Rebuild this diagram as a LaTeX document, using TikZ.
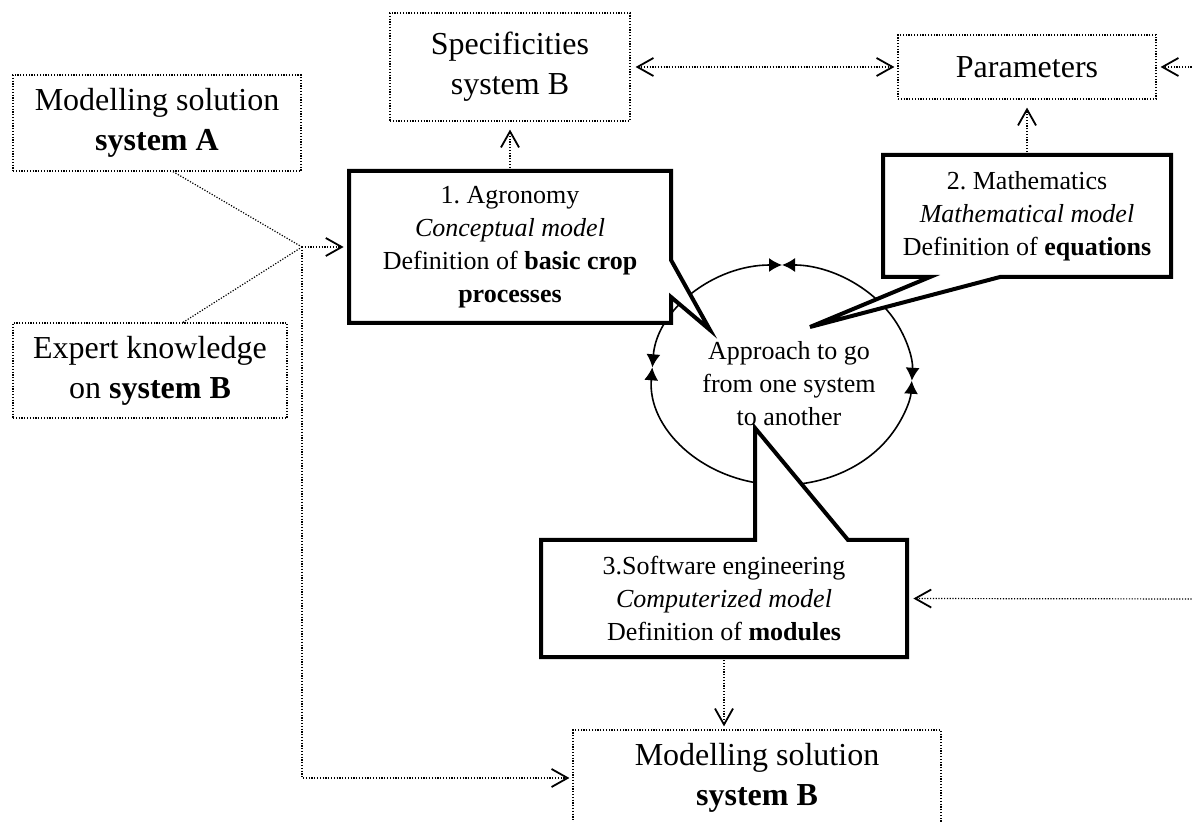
\documentclass[tikz,border=0pt]{standalone}
\usepackage{fontspec}
\setmainfont{Liberation Serif}
\usetikzlibrary{arrows.meta}
\frenchspacing

\begin{document}
\begin{tikzpicture}[x=0.5pt,y=-0.5pt,
    >={Straight Barb[length=8pt,width=9pt,line width=0.9pt]},
    punteado/.style={line width=0.6pt,dash pattern=on 0.6pt off 0.8pt},
    caja/.style={punteado,draw,align=center,inner sep=0pt,font=\fontsize{16}{20}\selectfont},
    globo/.style={line width=2pt,fill=white},
    texto/.style={align=center,inner sep=0pt,font=\fontsize{13}{16.5}\selectfont},
    flecha/.style={punteado,->,shorten >=2pt},
    ciclo/.style={line width=0.8pt,{Latex[length=6.5pt,width=7pt]}-{Latex[length=6.5pt,width=7pt]}}]
\def\rx{65pt};%radio horizontal del ciclo
\def\ry{55pt};%radio vertical del ciclo

\useasboundingbox (0,0) rectangle (1193,822);
\clip (0,0) rectangle (1193,822);

%Ciclo
\coordinate (arriba) at (782,265);
\coordinate (izq) at (652.3,367.3);
\draw[ciclo] (arriba) arc[start angle=90,end angle=176,x radius=\rx,y radius=\ry];
\draw[ciclo] (arriba) arc[start angle=90,end angle=-3,x radius=\rx,y radius=\ry];
\draw[ciclo] (izq) arc[start angle=176,end angle=357,x radius=\rx,y radius=\ry];

%Globos
\draw[globo] (349,171) -- (671,171) -- (671,260) -- (710,330) -- (671,297) -- (671,323) -- (349,323) -- cycle;
\draw[globo] (883,155) -- (1171,155) -- (1171,277) -- (1000,277) -- (810,327) -- (930,277) -- (883,277) -- cycle;
\draw[globo] (541,540) -- (755,540) -- (755,428) -- (848,540) -- (907,540) -- (907,657) -- (541,657) -- cycle;

%Textos de los globos
\node[texto,minimum width=161pt,minimum height=76pt] (agro) at (510,247) {1. Agronomy\\\textit{Conceptual model}\\Definition of \textbf{basic crop}\\\textbf{processes}};
\node[texto,minimum width=144pt,minimum height=61pt] (mate) at (1027,216) {2. Mathematics\\\textit{Mathematical model}\\Definition of \textbf{equations}};
\node[texto,minimum width=183pt,minimum height=58.5pt] (soft) at (724,598.5) {3.Software engineering\\\textit{Computerized model}\\Definition of \textbf{modules}};
\node[texto] (enfoque) at (789,384) {Approach to go\\from one system\\to another};

%Cajas punteadas
\node[caja,minimum width=144pt,minimum height=48pt] (solA) at (157,123) {Modelling solution\\\textbf{system A}};
\node[caja,minimum width=120pt,minimum height=54pt] (espec) at (510,67) {Specificities\\system B};
\node[caja,minimum width=129pt,minimum height=32pt] (param) at (1027,67) {Parameters};
\node[caja,minimum width=137pt,minimum height=47.5pt] (experto) at (150,370.5) {Expert knowledge\\on \textbf{system B}};
\node[caja,minimum width=184pt,minimum height=48pt] (solB) at (757,778) {Modelling solution\\\textbf{system B}};

%Conexiones
\coordinate (union) at (302,247);
\coordinate (derA) at (1200,67);
\coordinate (derB) at (1200,599);
\draw[punteado] ([xshift=8pt]solA.south) -- (union);
\draw[punteado] ([xshift=16.5pt]experto.north) -- (union);
\draw[flecha,shorten >=2.5pt] (union) -- (agro.west);
\draw[flecha,shorten >=1.5pt] (union) |- (solB.west);
\draw[flecha,shorten >=4pt] (agro.north) -- (espec.south);
\draw[flecha,shorten >=4pt] (mate.north) -- (param.south);
\draw[flecha,<->,shorten <=2.5pt,shorten >=1.5pt] (espec.east) -- (param.west);
\draw[flecha] (derA) -- (param.east);
\draw[flecha,shorten >=3pt] (derB) -- (soft.east);
\draw[flecha,shorten >=1.5pt] (soft.south) -- (soft.south |- solB.north);
\end{tikzpicture}
\end{document}
